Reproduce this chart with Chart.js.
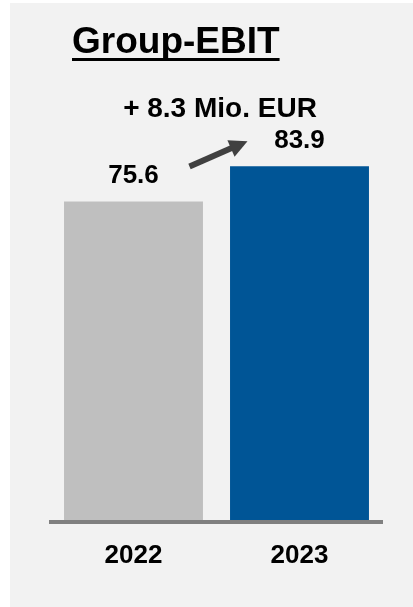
<!DOCTYPE html>
<html>
<head>
<meta charset="utf-8">
<script src="https://cdn.jsdelivr.net/npm/chart.js@4"></script>
<style>
  html, body { margin: 0; padding: 0; background: #ffffff; }
  canvas { display: block; }
</style>
</head>
<body>
<canvas id="ebitChart" width="413" height="607"></canvas>
<script>
// Daten
const years = ['2022', '2023'];
const ebitValues = [75.6, 83.9];
const barColors = ['#bfbfbf', '#005596'];
const titleText = 'Group-EBIT';
const deltaText = '+ 8.3 Mio. EUR';

const FONT = '"Liberation Sans", Arial, sans-serif';

// grauer Hintergrund
const backgroundPlugin = {
  id: 'panelBackground',
  beforeDraw(chart) {
    const ctx = chart.ctx;
    ctx.save();
    ctx.fillStyle = '#ffffff';
    ctx.fillRect(0, 0, chart.width, chart.height);
    ctx.fillStyle = '#f2f2f2';
    ctx.fillRect(10, 3, chart.width - 10, chart.height - 3);
    ctx.restore();
  }
};

// Titel, Delta, Werte und Pfeil
const annotationsPlugin = {
  id: 'annotations',
  afterDatasetsDraw(chart) {
    const ctx = chart.ctx;
    const bars = chart.getDatasetMeta(0).data;
    ctx.save();
    ctx.fillStyle = '#000000';

    ctx.font = 'bold 37px ' + FONT;
    ctx.textAlign = 'left';
    ctx.textBaseline = 'alphabetic';
    ctx.fillText(titleText, 72, 53);
    const w = ctx.measureText(titleText).width;
    ctx.fillRect(72, 58, w, 3);

    ctx.font = 'bold 28px ' + FONT;
    ctx.textAlign = 'center';
    ctx.fillText(deltaText, 220, 117);

    ctx.font = 'bold 26px ' + FONT;
    bars.forEach((bar, i) => {
      ctx.fillText(ebitValues[i].toFixed(1), bar.x, bar.y - 18);
    });

    // Pfeil
    const x0 = bars[0].x + 56, y0 = bars[0].y - 35;
    const x1 = bars[1].x - 52, y1 = bars[1].y - 25;
    const ang = Math.atan2(y1 - y0, x1 - x0);
    const headLen = 18, headHalf = 9;
    const bx = x1 - headLen * Math.cos(ang), by = y1 - headLen * Math.sin(ang);
    ctx.strokeStyle = '#404040';
    ctx.fillStyle = '#404040';
    ctx.lineWidth = 6;
    ctx.beginPath();
    ctx.moveTo(x0, y0);
    ctx.lineTo(bx + 2 * Math.cos(ang), by + 2 * Math.sin(ang));
    ctx.stroke();
    ctx.beginPath();
    ctx.moveTo(x1, y1);
    ctx.lineTo(bx - headHalf * Math.sin(ang), by + headHalf * Math.cos(ang));
    ctx.lineTo(bx + headHalf * Math.sin(ang), by - headHalf * Math.cos(ang));
    ctx.closePath();
    ctx.fill();

    ctx.restore();
  }
};

const ctx = document.getElementById('ebitChart').getContext('2d');
const ebitChart = new Chart(ctx, {
  type: 'bar',
  data: {
    labels: years,
    datasets: [{
      data: ebitValues,
      backgroundColor: barColors,
      borderWidth: 0,
      barPercentage: 1,
      categoryPercentage: 0.837
    }]
  },
  options: {
    responsive: false,
    animation: false,
    layout: { padding: { top: 98, left: 50.5, right: 30.5, bottom: 18 } },
    plugins: {
      legend: { display: false },
      tooltip: { enabled: false },
      title: { display: false }
    },
    scales: {
      y: { display: false, min: 0, max: 100 },
      x: {
        grid: { display: false, drawTicks: false },
        border: { display: true, color: '#808080', width: 4, z: 1 },
        ticks: {
          color: '#000000',
          font: { family: FONT, size: 26, weight: 'bold' },
          padding: 18
        }
      }
    }
  },
  plugins: [backgroundPlugin, annotationsPlugin]
});
</script>
</body>
</html>
